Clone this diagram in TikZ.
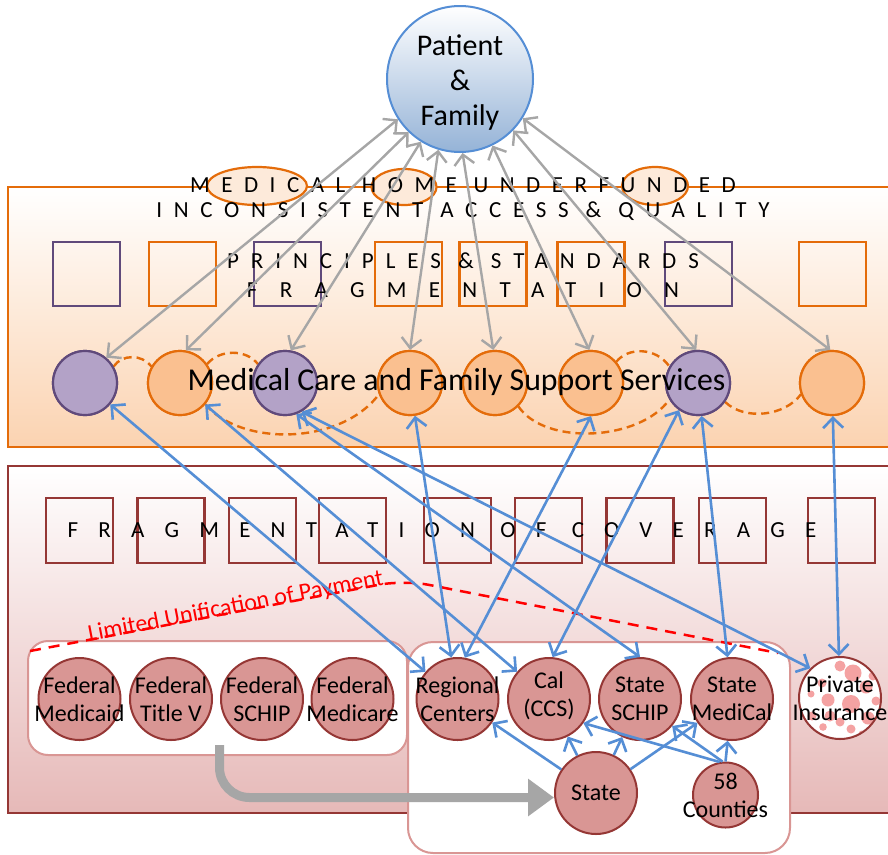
\documentclass[tikz,border=0pt]{standalone}
\usepackage{fontspec}
\setmainfont{Carlito}
\usetikzlibrary{arrows.meta,calc,shapes.geometric}
\definecolor{orgline}{HTML}{E46C0A}
\definecolor{orgfill}{HTML}{FAC090}
\definecolor{orgpale}{HTML}{FDEADA}
\definecolor{purline}{HTML}{604A7B}
\definecolor{purfill}{HTML}{B3A2C7}
\definecolor{redline}{HTML}{953735}
\definecolor{redfill}{HTML}{D99694}
\definecolor{redpale}{HTML}{E6B9B8}
\definecolor{redrim}{HTML}{D99694}
\definecolor{bandorg}{HTML}{FBD3B1}
\definecolor{blueline}{HTML}{558ED5}
\definecolor{bluefill}{HTML}{95B3D7}
\definecolor{grayline}{HTML}{A6A6A6}
\definecolor{dotpink}{HTML}{F4A2A2}
\begin{document}
\begin{tikzpicture}[x=1pt,y=-1pt,
  sqp/.style={draw=purline, line width=2.2pt, minimum width=67pt, minimum height=64pt, inner sep=0pt},
  sqo/.style={sqp, draw=orgline},
  sqr/.style={draw=redline, line width=2.2pt, minimum width=67pt, minimum height=65pt, inner sep=0pt},
  cp/.style={circle, minimum size=64pt, inner sep=0pt, line width=2.2pt, draw=purline, fill=purfill},
  co/.style={cp, draw=orgline, fill=orgfill},
  bc/.style={circle, minimum size=82pt, inner sep=0pt, line width=2pt, draw=redline, fill=redfill},
  lbl/.style={align=center, font=\fontsize{24}{28}\selectfont, inner sep=0pt},
  spc/.style={anchor=base, inner sep=0pt, font=\fontsize{23}{26}\selectfont},
  ell/.style={ellipse, draw=orgline, fill=orgpale, line width=2.2pt, inner sep=0pt},
  garrow/.style={draw=grayline, line width=2.4pt, >={Straight Barb[length=10pt,width=20pt]}, <->},
  barrow/.style={draw=blueline, line width=2.6pt, >={Straight Barb[length=10pt,width=20pt]}, <->},
  barrowone/.style={draw=blueline, line width=2.6pt, >={Straight Barb[length=10pt,width=20pt]}, ->},
  odash/.style={draw=orgline, line width=2.4pt, dash pattern=on 8pt off 5pt},
]
\path[use as bounding box] (0,0) rectangle (888,854);

% ---------- top band ----------
\draw[line width=2.5pt, draw=orgline, top color=white, bottom color=bandorg] (8,187) rectangle (900,447);
\node[ell, minimum width=100pt, minimum height=38pt] (e1) at (257,186) {};
\node[ell, minimum width=65pt, minimum height=36pt] (e2) at (404,187) {};
\node[ell, minimum width=66pt, minimum height=38pt] (e3) at (655,186) {};
\node[spc] (t1) at (463,192) {\addfontfeatures{LetterSpace=50}MEDICAL HOME UNDERFUNDED};
\node[spc] (t2) at (463,217) {\addfontfeatures{LetterSpace=51}INCONSISTENT ACCESS \& QUALITY};

\node[sqp] (s1) at (86.5,274) {};
\node[sqo] (s2) at (182.5,274) {};
\node[sqp] (s3) at (287.5,274) {};
\node[sqo] (s4) at (408.5,274) {};
\node[sqo] (s5) at (493,274) {};
\node[sqo] (s6) at (591,274) {};
\node[sqp] (s7) at (698.5,274) {};
\node[sqo] (s8) at (832.5,274) {};
\node[spc] (t3) at (463,268) {\addfontfeatures{LetterSpace=52}PRINCIPLES \& STANDARDS};
\node[spc] (t4) at (463,297) {\addfontfeatures{LetterSpace=97}FRAGMENTATION};

\node[cp] (c1) at (85,383) {};
\node[co] (c2) at (180,383) {};
\node[cp] (c3) at (285,383) {};
\node[co] (c4) at (410,383) {};
\node[co] (c5) at (495,383) {};
\node[co] (c6) at (591,383) {};
\node[cp] (c7) at (698,383) {};
\node[co] (c8) at (832,383) {};
% dashed orange arcs
\draw[odash] (c1.30) .. controls (122,354) and (142,354) .. (c2.150);
\draw[odash] (c2.35) .. controls (220,349) and (246,349) .. (c3.145);
\draw[odash] (c2.-40) .. controls (240,446) and (340,446) .. (c4.200);
\draw[odash] (c5.-45) .. controls (545,446) and (640,441) .. (c7.210);
\draw[odash] (c6.40) .. controls (628,347) and (656,347) .. (c7.150);
\draw[odash] (c7.-35) .. controls (745,421) and (785,416) .. (c8.200);
% circles again over the arc ends
\node[cp] at (c1) {};
\node[co] at (c2) {};
\node[cp] at (c3) {};
\node[co] at (c4) {};
\node[co] at (c5) {};
\node[co] at (c6) {};
\node[cp] at (c7) {};
\node[co] at (c8) {};
\node[anchor=base, inner sep=0pt, font=\fontsize{31.8}{38}\selectfont] (mcs) at (456.5,390) {Medical Care and Family Support Services};

% ---------- patient ----------
\node[circle, minimum size=146pt, inner sep=0pt, draw=blueline, line width=2pt, top color=white, bottom color=bluefill,
  label={[align=center, font=\fontsize{30}{35}\selectfont, inner sep=0pt, yshift=-4pt]center:{Patient\\\&\\Family}}] (pf) at (460,79) {};

\draw[garrow] (c1.50) -- (pf.213);
\draw[garrow] (c2.80) -- (pf.226);
\draw[garrow] (c3.80) -- (pf.238);
\draw[garrow] (c4.90) -- (pf.253);
\draw[garrow] (c5.93) -- (pf.272);
\draw[garrow] (c6.93) -- (pf.296);
\draw[garrow] (c7.93) -- (pf.316);
\draw[garrow] (c8.93) -- (pf.328);

% ---------- bottom band ----------
\draw[line width=2.5pt, draw=redline, top color=white, bottom color=redpale] (8,466) rectangle (900,813);
\node[sqr] (r1) at (79.5,530.5) {};
\node[sqr] (r2) at (171,530.5) {};
\node[sqr] (r3) at (262.5,530.5) {};
\node[sqr] (r4) at (352.5,530.5) {};
\node[sqr] (r5) at (457.5,530.5) {};
\node[sqr] (r6) at (548.5,530.5) {};
\node[sqr] (r7) at (640,530.5) {};
\node[sqr] (r8) at (732.5,530.5) {};
\node[sqr] (r9) at (841.5,530.5) {};
\node[spc] (t5) at (442,537) {\addfontfeatures{LetterSpace=88}FRAGMENTATION OF COVERAGE};

\draw[draw=redrim, line width=2pt, fill=white, rounded corners=20pt] (28,641) rectangle (407,755);
\draw[draw=redrim, line width=2pt, fill=white, rounded corners=25pt] (408,642) rectangle (790,853);

\coordinate (rd1) at (30,651);
\coordinate (rd2) at (404,580);
\coordinate (rd3) at (778,653);
\draw[red, line width=2.5pt, dash pattern=on 11pt off 8pt, rounded corners=25pt] (rd1) -- (rd2) -- (rd3);
\node[red, rotate=10.9, anchor=base, inner sep=0pt, font=\fontsize{24}{28}\selectfont] (lup) at (237,613) {Limited Unification of Payment};

\node[bc, label={[lbl]center:{Federal\\Medicaid}}] (fmd) at (79.5,699) {};
\node[bc, label={[lbl]center:{Federal\\Title V}}] (ftv) at (171,699) {};
\node[bc, label={[lbl]center:{Federal\\SCHIP}}] (fsc) at (262,699) {};
\node[bc, label={[lbl]center:{Federal\\Medicare}}] (fme) at (352.5,699) {};
\node[bc, label={[lbl]center:{Regional\\Centers}}] (rc) at (457.5,699) {};
\node[bc, label={[lbl, yshift=3pt]center:{Cal\\(CCS)}}] (cal) at (549,699) {};
\node[bc, label={[lbl]center:{State\\SCHIP}}] (ssc) at (640,699) {};
\node[bc, label={[lbl]center:{State\\MediCal}}] (smc) at (732,699) {};
\node[bc, label={[lbl]center:{State}}] (st) at (596,793) {};
\node[bc, minimum size=65pt, label={[lbl]center:{58\\Counties}}] (cty) at (725.5,795) {};

% private insurance
\fill[white] (840,698) circle[radius=41pt];
\begin{scope}
\clip (840,698) circle[radius=40pt];
\foreach \dx/\dy/\r in {840/666/5.5, 853/673/8.5, 873/676/4.5, 866/687/6.5, 822/683/4.5, 811/694/3.5, 828/700/6.5, 851/704/9, 876/701/4.5, 812/716/4.5, 830/716/5.5, 868/718/6.5, 823/727/3.8, 851/729/4.5, 840/722/4.5, 862/734/3.5}
  \fill[dotpink] (\dx,\dy) circle[radius=\r pt];
\end{scope}
\node[circle, minimum size=82pt, inner sep=0pt, line width=2pt, draw=redline, label={[lbl]center:{Private\\Insurance}}] (pi) at (840,698) {};

% gray flow arrow
\coordinate (gs) at (219.5,745);
\draw[grayline, line width=9pt, rounded corners=30pt, -{Triangle[length=26pt,width=36pt]}] (gs) |- ($(st.west)+(0,4.5)$);

% blue arrows
\draw[barrow] (c1) -- (rc);
\draw[barrow] (c2) -- (cal);
\draw[barrow] (c3.290) -- (ssc.north);
\draw[barrow] (c3.300) -- (pi.135);
\draw[barrow] (c4) -- (rc);
\draw[barrow] (c6.south) -- (rc.80);
\draw[barrow] (c7.235) -- (cal.85);
\draw[barrow] (c7) -- (smc);
\draw[barrow] (c8) -- (pi);

\draw[barrowone] (st) -- (rc);
\draw[barrowone] (st) -- (cal);
\draw[barrowone] (st) -- (ssc);
\draw[barrowone] (st) -- (smc);
\draw[barrowone] (cty.100) -- (cal.325);
\draw[barrowone] (cty.95) -- (ssc.320);
\draw[barrowone] (cty.north) -- (smc);
\end{tikzpicture}
\end{document}
